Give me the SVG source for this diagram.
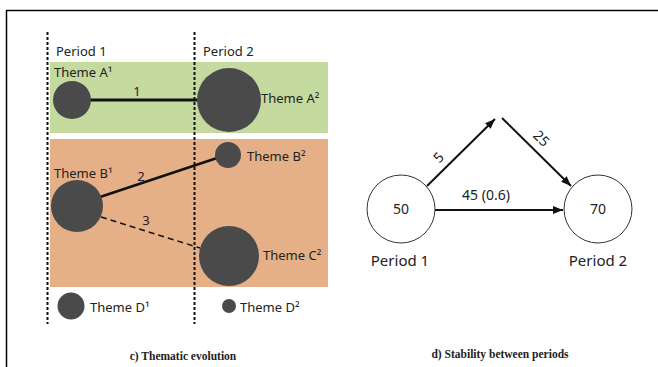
<svg xmlns="http://www.w3.org/2000/svg" width="658" height="367" viewBox="0 0 658 367">
<defs>
<style>
.lbl{font-family:"Noto Sans","Open Sans",sans-serif;font-size:13px;fill:#222}
.num{font-family:"Noto Sans","Open Sans",sans-serif;font-size:14px;fill:#222}
.big{font-family:"Noto Sans","Open Sans",sans-serif;font-size:15px;fill:#222}
.cap{font-family:"Liberation Serif","Times New Roman",serif;font-size:11.5px;font-weight:bold;fill:#222}
.theme{fill:#4a4a4a}
.per{fill:none;stroke:#111;stroke-width:2;stroke-dasharray:3,2}
.node{fill:#fff;stroke:#333;stroke-width:1}
.arr{stroke:#111;stroke-width:2;fill:none;marker-end:url(#ah)}
</style>
<marker id="ah" viewBox="0 0 10 8" refX="10" refY="4" markerWidth="10" markerHeight="8" markerUnits="userSpaceOnUse" orient="auto">
<path d="M0,0 L10,4 L0,8 z" fill="#111"/>
</marker>
</defs>
<rect width="658" height="367" fill="#fff"/>
<g id="frame">
<line x1="6" y1="10.5" x2="658" y2="10.5" stroke="#000" stroke-width="1.5"/>
<line x1="6.5" y1="10" x2="6.5" y2="367" stroke="#000" stroke-width="1.5"/>
</g>
<g id="bands">
<rect x="50" y="62" width="278" height="71" fill="#c5da9f"/>
<rect x="50" y="139" width="278" height="148" fill="#e5b088"/>
</g>
<g id="periods">
<line class="per" x1="47.5" y1="32" x2="47.5" y2="324"/>
<line class="per" x1="194.5" y1="32" x2="194.5" y2="324"/>
<text class="lbl" x="56" y="56" font-size="14">Period 1</text>
<text class="lbl" x="203" y="56" font-size="14">Period 2</text>
</g>
<g id="connectors-left">
<line x1="88" y1="100" x2="198" y2="100" stroke="#111" stroke-width="3"/>
<text class="lbl" x="137" y="96" text-anchor="middle" font-size="14">1</text>
<line x1="100" y1="197" x2="217" y2="158" stroke="#111" stroke-width="2.5"/>
<text class="lbl" x="141" y="181" text-anchor="middle" font-size="14">2</text>
<line x1="101" y1="217" x2="200" y2="248" stroke="#111" stroke-width="1.5" stroke-dasharray="6,4"/>
<text class="lbl" x="146" y="225" text-anchor="middle" font-size="14">3</text>
</g>
<g id="themeA1"><circle class="theme" cx="72" cy="100" r="19"/><text class="lbl" x="54" y="77">Theme A¹</text></g>
<g id="themeA2"><circle class="theme" cx="229" cy="100" r="32"/><text class="lbl" x="261" y="103">Theme A²</text></g>
<g id="themeB1"><circle class="theme" cx="77" cy="206" r="26"/><text class="lbl" x="54" y="178">Theme B¹</text></g>
<g id="themeB2"><circle class="theme" cx="228" cy="155" r="13"/><text class="lbl" x="247" y="161">Theme B²</text></g>
<g id="themeC2"><circle class="theme" cx="229" cy="256" r="30"/><text class="lbl" x="263" y="260">Theme C²</text></g>
<g id="themeD1"><circle class="theme" cx="71" cy="306" r="13.5"/><text class="lbl" x="90" y="312">Theme D¹</text></g>
<g id="themeD2"><circle class="theme" cx="229" cy="306" r="7"/><text class="lbl" x="240" y="312">Theme D²</text></g>
<text class="cap" x="183" y="360" text-anchor="middle">c) Thematic evolution</text>
<g id="connectors-right">
<line class="arr" x1="435" y1="210" x2="563" y2="210"/>
<text class="num" x="486" y="200" text-anchor="middle">45 (0.6)</text>
<line class="arr" x1="427" y1="186" x2="495" y2="119"/>
<text class="num" transform="translate(442,161) rotate(-45)" text-anchor="middle">5</text>
<line class="arr" x1="502" y1="118" x2="571" y2="186"/>
<text class="num" transform="translate(538,142) rotate(45)" text-anchor="middle">25</text>
</g>
<g id="node50"><circle class="node" cx="401" cy="209" r="34"/><text class="num" x="401" y="214" text-anchor="middle">50</text><text class="big" x="400" y="266" text-anchor="middle">Period 1</text></g>
<g id="node70"><circle class="node" cx="598" cy="209" r="34"/><text class="num" x="598" y="214" text-anchor="middle">70</text><text class="big" x="598" y="266" text-anchor="middle">Period 2</text></g>
<text class="cap" x="500" y="358" text-anchor="middle">d) Stability between periods</text>
</svg>
